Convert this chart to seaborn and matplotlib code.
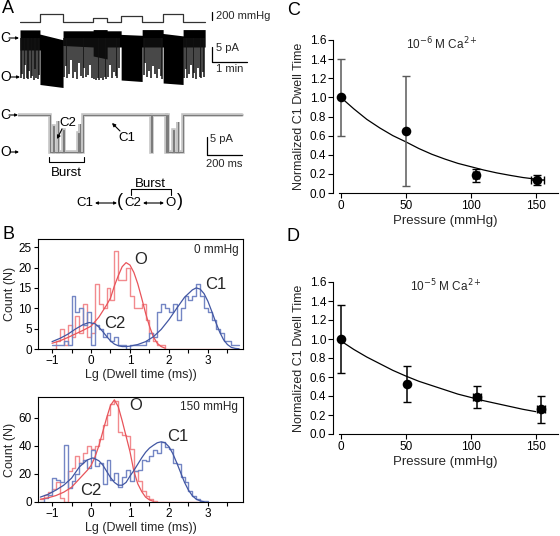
import numpy as np
import pandas as pd
import matplotlib
matplotlib.use("Agg")
import matplotlib.pyplot as plt
import seaborn as sns

sns.set_theme(style="white")
plt.rcParams['font.family'] = ['Liberation Sans', 'DejaVu Sans']

# ------------------------------------------------------------------ data
# Panel A (top trace): pressure protocol (min, mmHg)
press_t = [0, 0.57, 1.23, 2.09, 2.49, 2.89, 3.49, 4.09, 4.66, 5.29]
press_mmHg = [0, 180, 0, 80, 0, 135, 0, 180, 0]
# dense current band (min, pA)
band_t = [0, 0.57, 0.57, 1.23, 1.23, 2.09, 2.09, 2.49, 2.49, 2.89, 2.89, 3.49,
          3.49, 4.09, 4.09, 4.66, 4.66, 5.29]
band_top = [2.7, 2.7, 1.3, -0.6, 2.4, 2.4, 2.8, 2.8, 2.4, 2.4, 1.2, 0.9,
            2.8, 2.8, 1.5, 0.7, 2.8, 2.8]
band_bot = [-4.0, -4.0, -15.5, -16.5, -2.5, -3.0, -6.0, -7.0, -3.0, -3.0, -14.0, -14.5,
            -3.0, -3.0, -15.0, -15.5, -3.0, -3.0]
# brief openings (min, pA depth)
open_t = [0.03, 0.07, 0.11, 0.15, 0.19, 0.23, 0.27, 0.31, 0.35, 0.39, 0.43, 0.47, 0.51, 0.55,
          1.26, 1.30, 1.35, 1.41, 1.46, 1.51, 1.57, 1.62, 1.68, 1.73, 1.79, 1.84, 1.89, 1.95, 2.00, 2.05,
          2.12, 2.17, 2.22, 2.27, 2.32, 2.37, 2.42, 2.46,
          2.52, 2.57, 2.62, 2.68, 2.73, 2.78, 2.84,
          3.53, 3.58, 3.63, 3.69, 3.74, 3.80, 3.86, 3.91, 3.97, 4.02, 4.07,
          4.69, 4.73, 4.78, 4.83, 4.88, 4.93, 4.98, 5.03, 5.08, 5.13, 5.18, 5.23, 5.27]
open_depth = [-13.5, -12.0, -13.8, -9.0, -13.2, -13.6, -11.0, -13.4, -12.8, -13.9, -10.5, -13.3, -13.7, -12.5,
              -13.0, -9.5, -13.4, -12.0, -7.5, -13.2, -11.5, -13.6, -8.5, -12.8, -13.3, -10.0, -13.0, -12.2, -9.0, -13.5,
              -13.8, -14.0, -13.2, -13.9, -13.5, -14.1, -13.0, -13.6,
              -13.0, -9.0, -13.4, -11.5, -12.8, -13.2, -10.0,
              -12.5, -8.5, -13.1, -11.0, -13.4, -9.5, -12.0, -13.3, -10.5, -12.8, -13.6,
              -13.2, -10.5, -13.5, -12.0, -9.0, -13.3, -11.8, -13.6, -10.0, -12.9, -13.4, -11.2, -13.0]
# Panel A (bottom trace): single-channel record (ms, pA)
tr_ms = [0, 183, 200, 203, 228, 231, 257, 260, 343, 346, 352, 355, 371, 758, 763,
         846, 851, 857, 887, 890, 914, 917, 943, 1280]
tr_pA = [0, -10, -3, -10, -1.5, -10, -4, -10, -5, -10, -2.5, -10, 0, -10, 0,
         -10, 0, -10, -4, -10, -2, -10, 0, 0]

# Panel B: dwell-time histograms (bin start of 0.1-wide log bins, counts)
b0_bins = [-1.0, -0.9, -0.8, -0.7, -0.6, -0.5, -0.4, -0.3, -0.2, -0.1, 0.0, 0.1, 0.2, 0.3, 0.4, 0.5,
           0.6, 0.7, 0.8, 0.9, 1.0, 1.1, 1.2, 1.3, 1.4, 1.5, 1.6, 1.7, 1.8, 1.9, 2.0, 2.1, 2.2, 2.3,
           2.4, 2.5, 2.6, 2.7, 2.8, 2.9, 3.0, 3.1, 3.2, 3.3, 3.4, 3.5, 3.6, 3.7]
b0_closed = [1, 1, 1, 2, 1, 13, 9, 10, 6, 9, 1, 6, 5, 3, 4, 2,
             3, 1, 1, 0, 1, 1, 1, 1, 2, 4, 3, 9, 11, 10, 9, 11, 7, 10,
             13, 12, 13, 16, 13, 10, 9, 7, 5, 4, 2, 2, 1, 1]
b0_open = [0, 2, 5, 1, 6, 3, 8, 4, 11, 3, 4, 16, 11, 10, 15, 12,
           24, 17, 17, 20, 13, 10, 10, 11, 7, 4, 2, 1, 1, 0, 0, 0, 0, 0,
           0, 0, 0, 0, 0, 0, 0, 0, 0, 0, 0, 0, 0, 0]
b150_bins = [-1.3, -1.2, -1.1, -1.0, -0.9, -0.8, -0.7, -0.6, -0.5, -0.4, -0.3, -0.2, -0.1, 0.0,
             0.1, 0.2, 0.3, 0.4, 0.5, 0.6, 0.7, 0.8, 0.9, 1.0, 1.1, 1.2, 1.3, 1.4, 1.5, 1.6,
             1.7, 1.8, 1.9, 2.0, 2.1, 2.2, 2.3, 2.4, 2.5, 2.6, 2.7, 2.8, 2.9]
b150_closed = [0, 3, 5, 17, 16, 14, 41, 10, 15, 20, 28, 30, 24, 37,
               26, 28, 13, 30, 16, 21, 11, 18, 23, 15, 22, 23, 30, 29, 33, 37,
               35, 43, 39, 38, 28, 27, 18, 14, 8, 4, 2, 1, 1]
b150_open = [2, 5, 7, 9, 14, 3, 0, 22, 24, 33, 28, 35, 40, 38,
             40, 45, 55, 62, 70, 72, 50, 48, 47, 38, 22, 15, 8, 4, 2, 1,
             0, 0, 0, 0, 0, 0, 0, 0, 0, 0, 0, 0, 0]
# fitted curves
fit0_open_x = [-1.0, -0.8, -0.6, -0.4, -0.2, 0.0, 0.2, 0.3, 0.4, 0.5, 0.6, 0.7, 0.8, 0.9,
               1.0, 1.1, 1.2, 1.3, 1.4, 1.5, 1.6, 1.7, 1.8, 1.9]
fit0_open_y = [1.4, 2.0, 2.8, 3.7, 4.6, 5.6, 7.8, 9.3, 10.8, 12.5, 15.5, 18.0, 20.2, 21.2,
               20.6, 18.8, 16.0, 12.5, 8.8, 5.6, 3.0, 1.4, 0.6, 0.2]
fit0_closed_x = [-1.0, -0.8, -0.6, -0.4, -0.2, -0.05, 0.1, 0.2, 0.3, 0.4, 0.5, 0.6, 0.7, 0.8,
                 0.9, 1.0, 1.2, 1.4, 1.6, 1.8, 2.0, 2.2, 2.4, 2.6, 2.7, 2.8, 2.9, 3.0, 3.1,
                 3.2, 3.3, 3.4, 3.5, 3.6, 3.7, 3.8]
fit0_closed_y = [1.8, 2.6, 3.6, 4.9, 6.0, 6.5, 6.2, 5.4, 4.3, 3.1, 2.0, 1.2, 0.8, 0.6,
                 0.6, 0.7, 1.1, 1.8, 3.0, 4.8, 7.2, 10.0, 12.7, 14.5, 15.0, 14.7, 13.6, 11.7, 9.2,
                 6.6, 4.2, 2.3, 1.1, 0.4, 0.15, 0.05]
fit150_open_x = [-1.3, -1.1, -0.9, -0.7, -0.5, -0.3, -0.1, 0.0, 0.1, 0.2, 0.3, 0.4, 0.5, 0.6,
                 0.7, 0.8, 0.9, 1.0, 1.1, 1.2, 1.3, 1.4, 1.5, 1.6]
fit150_open_y = [2.0, 3.0, 4.6, 7.0, 10.5, 16.5, 22.5, 26.0, 32.0, 40.0, 50.0, 60.0, 69.0, 73.0,
                 68.0, 58.0, 47.0, 36.0, 22.0, 13.0, 7.5, 3.5, 1.5, 0.5]
fit150_closed_x = [-1.3, -1.1, -0.9, -0.7, -0.5, -0.3, -0.1, 0.05, 0.2, 0.3, 0.4, 0.5, 0.6, 0.7,
                   0.8, 0.9, 1.0, 1.1, 1.2, 1.3, 1.4, 1.5, 1.6, 1.7, 1.8, 1.9, 2.0, 2.1, 2.2,
                   2.3, 2.4, 2.5, 2.6, 2.7, 2.8, 2.9]
fit150_closed_y = [3.5, 5.5, 8.5, 12.0, 17.0, 25.0, 30.0, 31.5, 29.5, 26.5, 22.0, 17.5, 14.0, 12.0,
                   12.0, 14.0, 18.5, 22.5, 27.0, 31.5, 35.5, 38.5, 40.5, 42.3, 43.0, 42.3, 39.5, 34.5, 28.0,
                   21.0, 14.0, 8.5, 4.5, 2.0, 0.8, 0.2]

# Panels C and D
c_press = [0, 50, 104, 151]
c_dwell = [1.0, 0.645, 0.185, 0.135]
c_yerr = [0.4, 0.575, 0.07, 0.05]
c_xerr = [0, 0, 2, 5]
c_fit_x = [0, 10, 20, 30, 40, 50, 60, 70, 80, 90, 100, 110, 120, 130, 140, 150]
c_fit_y = [1.0, 0.88, 0.77, 0.68, 0.60, 0.535, 0.465, 0.405, 0.355, 0.31, 0.275, 0.24, 0.21, 0.185, 0.162, 0.145]
d_press = [0, 51, 105, 154]
d_dwell = [1.0, 0.53, 0.39, 0.26]
d_yerr = [0.36, 0.19, 0.12, 0.14]
d_xerr = [0, 0, 3, 3]
d_fit_x = [0, 10, 20, 30, 40, 50, 60, 70, 80, 90, 100, 110, 120, 130, 140, 150]
d_fit_y = [0.98, 0.89, 0.81, 0.74, 0.67, 0.61, 0.555, 0.51, 0.465, 0.42, 0.385, 0.35, 0.32, 0.29, 0.26, 0.235]

# ------------------------------------------------------------------ layout helpers
W, H = 560, 536
def rect(x0, y0, x1, y1):
    return [x0 / W, 1 - y1 / H, (x1 - x0) / W, (y1 - y0) / H]
def fp(x, y):
    return (x / W, 1 - y / H)

RED_H, RED_F = '#f28a8e', '#e8545a'
BLUE_H, BLUE_F = '#7486c4', '#4257a3'

fig = plt.figure(figsize=(5.6, 5.36), dpi=100)

def ftxt(x, y, s, size=8, **kw):
    fig.text(*fp(x, y), s, fontsize=size, color='black', **kw)

def farrow(x0, y0, x1, y1, style='-|>', lw=0.8, ms=5):
    fig.add_artist(matplotlib.patches.FancyArrowPatch(fp(x0, y0), fp(x1, y1),
                   transform=fig.transFigure, arrowstyle=style, mutation_scale=ms,
                   lw=lw, color='black', shrinkA=0, shrinkB=0))

def fline(xs, ys, lw=0.8):
    fig.add_artist(matplotlib.lines.Line2D([x / W for x in xs], [1 - y / H for y in ys],
                   transform=fig.transFigure, color='black', lw=lw))

# ------------------------------------------------------------------ panel A
axP = fig.add_axes(rect(20, 3, 250, 27))
axP.set_xlim(0, 230 / 35)
axP.set_ylim(-128, 450)
axP.axis('off')
axP.plot(press_t, press_mmHg + [press_mmHg[-1]], drawstyle='steps-post', color='#333333', lw=0.9)
axP.plot([5.486, 5.486], [40, 240], color='black', lw=0.9)
axP.text(5.6, 140, '200 mmHg', fontsize=8, va='center', ha='left')

axI = fig.add_axes(rect(20, 25, 250, 92))
axI.set_xlim(0, 230 / 35)
axI.set_ylim(-18, 4.33)
axI.axis('off')
axI.fill_between(band_t, band_bot, band_top, color='black', lw=0)
axI.vlines(open_t, [0] * len(open_t), open_depth, color='#111111', lw=1.1)
axI.plot([5.486, 5.486, 6.486], [-3.0, -8.0, -8.0], color='black', lw=0.9)
axI.text(5.6, -3.3, '5 pA', fontsize=8, va='center', ha='left')
axI.text(5.99, -10.2, '1 min', fontsize=8, va='center', ha='center')

axT = fig.add_axes(rect(18, 105, 250, 160))
axT.set_xlim(0, 232 / 0.175)
axT.set_ylim(-12.16, 2.7)
axT.axis('off')
axT.plot(tr_ms, tr_pA, drawstyle='steps-post', color='#c4c4c4', lw=2.6, solid_joinstyle='miter')
axT.plot(tr_ms, tr_pA, drawstyle='steps-post', color='#7a7a7a', lw=0.7)
axT.plot([1080, 1080, 1280], [-5.95, -10.8, -10.8], color='black', lw=0.9, clip_on=False)
axT.text(1095, -6.6, '5 pA', fontsize=8, va='center', ha='left')
axT.text(1180, -13.2, '200 ms', fontsize=8, va='center', ha='center', clip_on=False)

# panel A annotations
ftxt(2, 0, 'A', size=13, va='top', ha='left')
ftxt(0, 38, 'C', size=10, va='center')
farrow(9, 38, 19, 38, ms=4)
ftxt(0, 77, 'O', size=10, va='center')
farrow(10, 77, 20, 77, ms=4)
ftxt(0, 115, 'C', size=10, va='center')
farrow(9, 115, 18, 115, ms=4)
ftxt(0, 152, 'O', size=10, va='center')
farrow(10, 152, 19, 152, ms=4)
ftxt(59, 123, 'C2', size=9.5, va='center')
farrow(62, 129, 57, 139, ms=5)
ftxt(118, 138, 'C1', size=9.5, va='center')
farrow(120, 131, 112, 123, ms=5)
fline([49, 49, 84, 84], [157, 162, 162, 157])
ftxt(66, 173, 'Burst', size=9.5, va='center', ha='center')
# kinetic scheme
ftxt(150, 184, 'Burst', size=9.5, va='center', ha='center')
fline([131, 131, 171, 171], [195, 189, 189, 195])
ftxt(85, 203, 'C1', size=9.5, va='center', ha='center')
farrow(95, 203, 117, 203, style='<|-|>', ms=4)
ftxt(120, 202, '(', size=13, va='center', ha='center')
ftxt(133, 203, 'C2', size=9.5, va='center', ha='center')
farrow(143, 203, 164, 203, style='<|-|>', ms=4)
ftxt(170, 203, 'O', size=9.5, va='center', ha='center')
ftxt(180, 202, ')', size=13, va='center', ha='center')

# ------------------------------------------------------------------ panel B
def style_b(ax, ylim, yticks):
    ax.set_xlim(-1.36, 3.9)
    ax.set_ylim(*ylim)
    ax.set_yticks(yticks)
    ax.set_xticks([-1, 0, 1, 2, 3])
    ax.set_xticks([-0.5, 0.5, 1.5, 2.5, 3.5], minor=True)
    ax.tick_params(axis='both', which='both', direction='out', length=3, width=0.8,
                   bottom=True, left=True, labelsize=8.5, pad=1.5, colors='black')
    for s in ax.spines.values():
        s.set_color('black')
        s.set_linewidth(0.8)
    ax.set_xlabel('Lg (Dwell time (ms))', fontsize=9, labelpad=1)
    ax.set_ylabel('Count (N)', fontsize=9, labelpad=2)

def hist_panel(ax, bins, closed, opn, fcx, fcy, fox, foy):
    edges = list(bins) + [round(bins[-1] + 0.1, 2)]
    centers = [b + 0.05 for b in bins]
    sns.histplot(x=centers, weights=opn, bins=edges, element='step', fill=False,
                 color=RED_H, lw=1.0, ax=ax)
    sns.histplot(x=centers, weights=closed, bins=edges, element='step', fill=False,
                 color=BLUE_H, lw=1.0, ax=ax)
    sns.lineplot(x=fox, y=foy, color=RED_F, lw=0.9, ax=ax)
    sns.lineplot(x=fcx, y=fcy, color=BLUE_F, lw=0.9, ax=ax)

axB1 = fig.add_axes(rect(38, 239, 243, 349))
hist_panel(axB1, b0_bins, b0_closed, b0_open, fit0_closed_x, fit0_closed_y, fit0_open_x, fit0_open_y)
style_b(axB1, (0, 27), [0, 5, 10, 15, 20, 25])
axB1.text(1.27, 22.0, 'O', fontsize=12, va='center', ha='center')
axB1.text(3.2, 15.8, 'C1', fontsize=12, va='center', ha='center')
axB1.text(0.6, 6.3, 'C2', fontsize=12, va='center', ha='center')
axB1.text(3.78, 24.2, '0 mmHg', fontsize=8.5, va='center', ha='right')

axB2 = fig.add_axes(rect(38, 397, 243, 502))
hist_panel(axB2, b150_bins, b150_closed, b150_open, fit150_closed_x, fit150_closed_y, fit150_open_x, fit150_open_y)
style_b(axB2, (0, 75), [0, 20, 40, 60])
axB2.text(1.15, 69, 'O', fontsize=12, va='center', ha='center')
axB2.text(2.22, 46.5, 'C1', fontsize=12, va='center', ha='center')
axB2.text(0.0, 8.5, 'C2', fontsize=12, va='center', ha='center')
axB2.text(3.78, 68, '150 mmHg', fontsize=8.5, va='center', ha='right')

ftxt(2, 226, 'B', size=13, va='top', ha='left')

# ------------------------------------------------------------------ panels C and D
def dwell_panel(ax, px, py, yerr, xerr, fx, fy, bar_colors, title, tx):
    sns.lineplot(x=fx, y=fy, color='black', lw=0.9, ax=ax)
    for x, y, ye, xe, c in zip(px, py, yerr, xerr, bar_colors):
        ax.errorbar([x], [y], yerr=[ye], xerr=[xe] if xe else None, fmt='none',
                    ecolor=c, elinewidth=1.1, capsize=2.8, capthick=1.0, zorder=2)
    sns.scatterplot(x=px, y=py, color='black', s=48, edgecolor='black', linewidth=0,
                    zorder=3, ax=ax)
    ax.set_xlim(-6, 167)
    ax.set_ylim(0, 1.6)
    ax.set_xticks([0, 50, 100, 150])
    ax.set_yticks([0.0, 0.2, 0.4, 0.6, 0.8, 1.0, 1.2, 1.4, 1.6])
    ax.yaxis.set_major_formatter(matplotlib.ticker.FormatStrFormatter('%.1f'))
    ax.spines['top'].set_visible(False)
    ax.spines['right'].set_visible(False)
    ax.spines['bottom'].set_bounds(-1.5, 167)
    for s in ('left', 'bottom'):
        ax.spines[s].set_color('black')
        ax.spines[s].set_linewidth(0.8)
    ax.tick_params(axis='both', direction='out', length=3.5, width=0.8, bottom=True,
                   left=True, labelsize=8.5, pad=1.5, colors='black')
    ax.set_xlabel('Pressure (mmHg)', fontsize=9.5, labelpad=2)
    ax.set_ylabel('Normalized C1 Dwell Time', fontsize=9, labelpad=3)
    ax.text(tx, 1.56, title, fontsize=8.5, ha='center', va='center')

axC = fig.add_axes(rect(333, 40, 558, 193))
dwell_panel(axC, c_press, c_dwell, c_yerr, c_xerr, c_fit_x, c_fit_y,
            ['#5a5a5a', '#5a5a5a', 'black', 'black'], r'10$^{-6}$ M Ca$^{2+}$', 78)
axD = fig.add_axes(rect(333, 282, 558, 434))
dwell_panel(axD, d_press, d_dwell, d_yerr, d_xerr, d_fit_x, d_fit_y,
            ['black'] * 4, r'10$^{-5}$ M Ca$^{2+}$', 81)

ftxt(287, 2, 'C', size=13, va='top', ha='left')
ftxt(287, 228, 'D', size=13, va='top', ha='left')

fig.savefig('out.png', dpi=100)
